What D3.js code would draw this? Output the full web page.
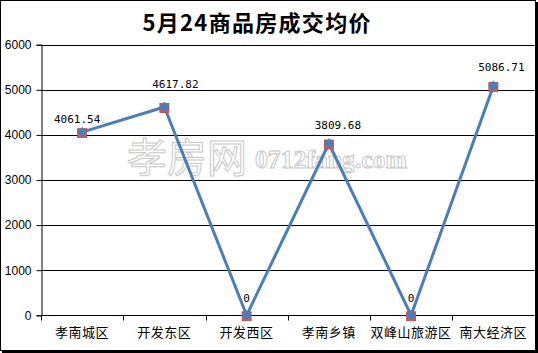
<!DOCTYPE html>
<html>
<head>
<meta charset="utf-8">
<script src="https://cdn.jsdelivr.net/npm/d3@7"></script>
<style>
  body { margin: 0; background: #fff; }
  svg { display: block; }
</style>
</head>
<body>
<script>
var districts = ["孝南城区", "开发东区", "开发西区", "孝南乡镇", "双峰山旅游区", "南大经济区"];
var prices = [4061.54, 4617.82, 0, 3809.68, 0, 5086.71];
var priceLabels = ["4061.54", "4617.82", "0", "3809.68", "0", "5086.71"];
var yTicks = [0, 1000, 2000, 3000, 4000, 5000, 6000];
var title = "5月24商品房成交均价";

var W = 538, H = 353;
var plot = { left: 41, right: 534.5, top: 44.7, bottom: 315.3 };
// label nudges (px), the way the original placed them around the markers
var labelDx = [-5, 11, 0, 9, 0, 8];
var labelDy = [-9, -19, -13, -14, -13, -15];

var svg = d3.select("body").append("svg")
  .attr("width", W)
  .attr("height", H);

svg.append("rect")
  .attr("width", W).attr("height", H)
  .attr("fill", "#fff");

var x = d3.scaleBand()
  .domain(districts)
  .range([plot.left, plot.right])
  .padding(0);

var y = d3.scaleLinear()
  .domain([0, 6000])
  .range([plot.bottom, plot.top]);

function cx(d, i) { return x(districts[i]) + x.bandwidth() / 2; }

// title
svg.append("text")
  .attr("x", 256.5)
  .attr("y", 31)
  .attr("text-anchor", "middle")
  .attr("font-family", "'Noto Sans CJK SC', sans-serif")
  .attr("font-weight", "bold")
  .attr("font-size", 22)
  .attr("textLength", 228)
  .attr("lengthAdjust", "spacing")
  .attr("fill", "#000")
  .text(title);

// gridlines
svg.append("g")
  .selectAll("line")
  .data(yTicks.slice(1))
  .enter().append("line")
  .attr("x1", plot.left).attr("x2", plot.right)
  .attr("y1", function (d) { return Math.round(y(d)) + 0.5; })
  .attr("y2", function (d) { return Math.round(y(d)) + 0.5; })
  .attr("stroke", "#000")
  .attr("stroke-width", 1);

// watermark
var wm = svg.append("g")
  .attr("fill", "#fff")
  .attr("stroke", "#c8c8c8")
  .attr("stroke-width", 1);
wm.append("text")
  .attr("x", 127).attr("y", 172)
  .attr("font-family", "'Noto Sans CJK SC', sans-serif")
  .attr("font-size", 40)
  .attr("textLength", 120)
  .attr("lengthAdjust", "spacingAndGlyphs")
  .text("孝房网");
wm.append("text")
  .attr("x", 255).attr("y", 168)
  .attr("font-family", "'Liberation Serif', serif")
  .attr("font-weight", "bold")
  .attr("font-size", 26)
  .attr("textLength", 152)
  .attr("lengthAdjust", "spacingAndGlyphs")
  .text("0712fang.com");

// axes
var yAxis = d3.axisLeft(y)
  .tickValues(yTicks)
  .tickSize(5)
  .tickPadding(5)
  .tickFormat(d3.format("d"));

svg.append("g")
  .attr("transform", "translate(" + (plot.left + 0.5) + ",0)")
  .call(yAxis)
  .call(function (g) {
    g.select(".domain").attr("stroke", "#000");
    g.selectAll(".tick line").attr("stroke", "#000");
    g.selectAll(".tick text")
      .attr("font-family", "'Liberation Sans', sans-serif")
      .attr("font-size", 12)
      .attr("fill", "#000");
  });

var xg = svg.append("g")
  .attr("transform", "translate(0," + (Math.round(plot.bottom) + 0.5) + ")");
xg.append("line")
  .attr("x1", plot.left).attr("x2", plot.right)
  .attr("stroke", "#000");
xg.selectAll(".edge")
  .data(districts.concat([null]))
  .enter().append("line")
  .attr("class", "edge")
  .attr("x1", function (d, i) { return Math.round(plot.left + i * x.bandwidth()) + 0.5; })
  .attr("x2", function (d, i) { return Math.round(plot.left + i * x.bandwidth()) + 0.5; })
  .attr("y1", 0).attr("y2", 5)
  .attr("stroke", "#000");
xg.selectAll(".cat")
  .data(districts)
  .enter().append("text")
  .attr("class", "cat")
  .attr("x", function (d) { return x(d) + x.bandwidth() / 2; })
  .attr("y", 21)
  .attr("text-anchor", "middle")
  .attr("font-family", "'Noto Sans CJK SC', sans-serif")
  .attr("font-size", 13)
  .attr("letter-spacing", 0.5)
  .attr("fill", "#000")
  .text(function (d) { return d; });

// series line
var line = d3.line()
  .x(function (d, i) { return cx(d, i); })
  .y(function (d) { return y(d); });

svg.append("path")
  .datum(prices)
  .attr("d", line)
  .attr("fill", "none")
  .attr("stroke", "#4a7ebb")
  .attr("stroke-width", 3)
  .attr("stroke-linejoin", "round");

// markers: red square under blue diamond
svg.selectAll(".sq")
  .data(prices)
  .enter().append("rect")
  .attr("class", "sq")
  .attr("x", function (d, i) { return cx(d, i) - 4.5; })
  .attr("y", function (d) { return y(d) - 3.5; })
  .attr("width", 9).attr("height", 9)
  .attr("fill", "#d05a57")
  .attr("stroke", "#b84a48")
  .attr("stroke-width", 0.8);

svg.selectAll(".dia")
  .data(prices)
  .enter().append("path")
  .attr("class", "dia")
  .attr("d", d3.symbol().type(d3.symbolDiamond2).size(70))
  .attr("transform", function (d, i) { return "translate(" + cx(d, i) + "," + y(d) + ")"; })
  .attr("fill", "#4a7ebb");

// value labels
svg.selectAll(".val")
  .data(prices)
  .enter().append("text")
  .attr("class", "val")
  .attr("x", function (d, i) { return cx(d, i) + labelDx[i]; })
  .attr("y", function (d, i) { return y(d) + labelDy[i]; })
  .attr("text-anchor", "middle")
  .attr("font-family", "'DejaVu Sans Mono', monospace")
  .attr("font-size", 11)
  .attr("fill", "#000")
  .text(function (d, i) { return priceLabels[i]; });

// chart border
svg.append("rect")
  .attr("x", 0.5).attr("y", 0.5)
  .attr("width", 535).attr("height", 350)
  .attr("fill", "none")
  .attr("stroke", "#000");
svg.append("line")
  .attr("x1", 536.5).attr("x2", 536.5)
  .attr("y1", 2).attr("y2", H)
  .attr("stroke", "#000").attr("stroke-width", 3);
svg.append("line")
  .attr("x1", 2).attr("x2", W)
  .attr("y1", 351.5).attr("y2", 351.5)
  .attr("stroke", "#000").attr("stroke-width", 3);
</script>
</body>
</html>
